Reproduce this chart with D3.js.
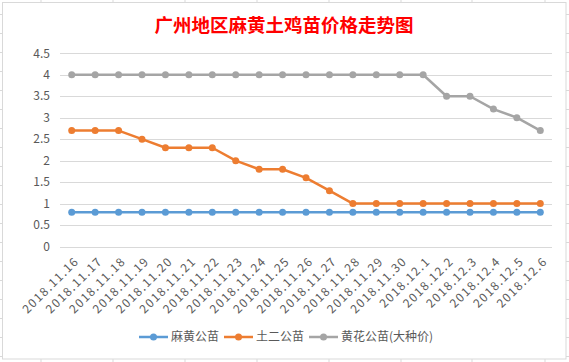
<!DOCTYPE html>
<html>
<head>
<meta charset="utf-8">
<script src="https://cdn.jsdelivr.net/npm/d3@7"></script>
<style>
    body { margin: 0; background: #fff; }
    svg { display: block; }
</style>
</head>
<body>
<svg id="chart" width="569" height="362"></svg>
<script>
// data
let dates = ["2018.11.16", "2018.11.17", "2018.11.18", "2018.11.19", "2018.11.20", "2018.11.21",
    "2018.11.22", "2018.11.23", "2018.11.24", "2018.11.25", "2018.11.26", "2018.11.27",
    "2018.11.28", "2018.11.29", "2018.11.30", "2018.12.1", "2018.12.2", "2018.12.3",
    "2018.12.4", "2018.12.5", "2018.12.6"];
let mahuang = [0.8, 0.8, 0.8, 0.8, 0.8, 0.8, 0.8, 0.8, 0.8, 0.8, 0.8, 0.8, 0.8, 0.8, 0.8, 0.8, 0.8, 0.8, 0.8, 0.8, 0.8];
let tuer = [2.7, 2.7, 2.7, 2.5, 2.3, 2.3, 2.3, 2.0, 1.8, 1.8, 1.6, 1.3, 1.0, 1.0, 1.0, 1.0, 1.0, 1.0, 1.0, 1.0, 1.0];
let huanghua = [4, 4, 4, 4, 4, 4, 4, 4, 4, 4, 4, 4, 4, 4, 4, 4, 3.5, 3.5, 3.2, 3.0, 2.7];
let yTicks = [0, 0.5, 1, 1.5, 2, 2.5, 3, 3.5, 4, 4.5];

let series = [
    {name: "麻黄公苗", values: mahuang, color: "#5b9bd5"},
    {name: "土二公苗", values: tuer, color: "#ed7d31"},
    {name: "黄花公苗(大种价)", values: huanghua, color: "#a5a5a5"}
];

const FONT = "'Noto Sans CJK SC', 'Noto Sans', sans-serif";
const TEXT = "#595959";
const GRID = "#d9d9d9";

let svg = d3.select("#chart");

// spreadsheet cell ticks round the chart frame
let cols = [41, 113, 185, 257, 329, 401, 472, 545];
let rows = d3.range(14, 362, 19);
svg.selectAll(".colTick").data(cols).enter().append("line")
    .attr("x1", d => d).attr("x2", d => d)
    .attr("y1", 0).attr("y2", 2)
    .attr("stroke", GRID);
svg.selectAll(".colTickB").data(cols).enter().append("line")
    .attr("x1", d => d).attr("x2", d => d)
    .attr("y1", 359).attr("y2", 362)
    .attr("stroke", GRID);
svg.selectAll(".rowTick").data(rows).enter().append("line")
    .attr("x1", 0).attr("x2", 3)
    .attr("y1", d => d + 0.5).attr("y2", d => d + 0.5)
    .attr("stroke", GRID);
svg.selectAll(".rowTickR").data(rows).enter().append("line")
    .attr("x1", 566).attr("x2", 569)
    .attr("y1", d => d + 0.5).attr("y2", d => d + 0.5)
    .attr("stroke", GRID);

svg.append("rect")
    .attr("x", 2.5).attr("y", 2.5)
    .attr("width", 563.5).attr("height", 356.5)
    .attr("fill", "#fff")
    .attr("stroke", GRID)
    .attr("stroke-width", 1);

// title
svg.append("text")
    .attr("x", 284).attr("y", 32)
    .attr("text-anchor", "middle")
    .attr("font-family", FONT)
    .attr("font-size", 18.5)
    .attr("font-weight", "bold")
    .attr("fill", "#ff0000")
    .text("广州地区麻黄土鸡苗价格走势图");

let x = d3.scaleBand()
    .domain(dates)
    .range([60, 552]);
let y = d3.scaleLinear()
    .domain([0, 4.5])
    .range([246.5, 53.3]);

let cx = d => x(d) + x.bandwidth() / 2;

// gridlines
svg.append("g")
    .selectAll("line").data(yTicks).enter().append("line")
    .attr("x1", 60).attr("x2", 552)
    .attr("y1", d => Math.round(y(d)) + 0.5)
    .attr("y2", d => Math.round(y(d)) + 0.5)
    .attr("stroke", GRID)
    .attr("stroke-width", 1);

// y axis labels
svg.append("g")
    .selectAll("text").data(yTicks).enter().append("text")
    .attr("x", 50)
    .attr("y", d => y(d))
    .attr("dy", "0.35em")
    .attr("text-anchor", "end")
    .attr("font-family", FONT)
    .attr("font-size", 12)
    .attr("fill", TEXT)
    .text(d => d);

// x axis labels, rotated
svg.append("g")
    .selectAll("text").data(dates).enter().append("text")
    .attr("transform", d => "translate(" + (cx(d) + 5) + ",259) rotate(-45)")
    .attr("text-anchor", "end")
    .attr("dy", "0.35em")
    .attr("font-family", FONT)
    .attr("font-size", 12)
    .attr("letter-spacing", 1.4)
    .attr("fill", TEXT)
    .text(d => d);

// lines and markers
let line = d3.line()
    .x((d, i) => cx(dates[i]))
    .y(d => y(d));

for (let s of series) {
    let g = svg.append("g");
    g.append("path")
        .attr("d", line(s.values))
        .attr("fill", "none")
        .attr("stroke", s.color)
        .attr("stroke-width", 2.5)
        .attr("stroke-linejoin", "round");
    g.selectAll("circle").data(s.values).enter().append("circle")
        .attr("cx", (d, i) => cx(dates[i]))
        .attr("cy", d => y(d))
        .attr("r", 3.5)
        .attr("fill", s.color);
}

// legend
let legend = svg.append("g");
let lx = 139;
for (let s of series) {
    let item = legend.append("g").attr("transform", "translate(" + lx + ",337)");
    item.append("line")
        .attr("x1", 0).attr("x2", 29)
        .attr("stroke", s.color)
        .attr("stroke-width", 2.5);
    item.append("circle")
        .attr("cx", 14.5).attr("r", 3.5)
        .attr("fill", s.color);
    let t = item.append("text")
        .attr("x", 32)
        .attr("dy", "0.35em")
        .attr("font-family", FONT)
        .attr("font-size", 12)
        .attr("fill", TEXT)
        .text(s.name);
    lx += 32 + t.node().getComputedTextLength() + 5;
}
</script>
</body>
</html>
